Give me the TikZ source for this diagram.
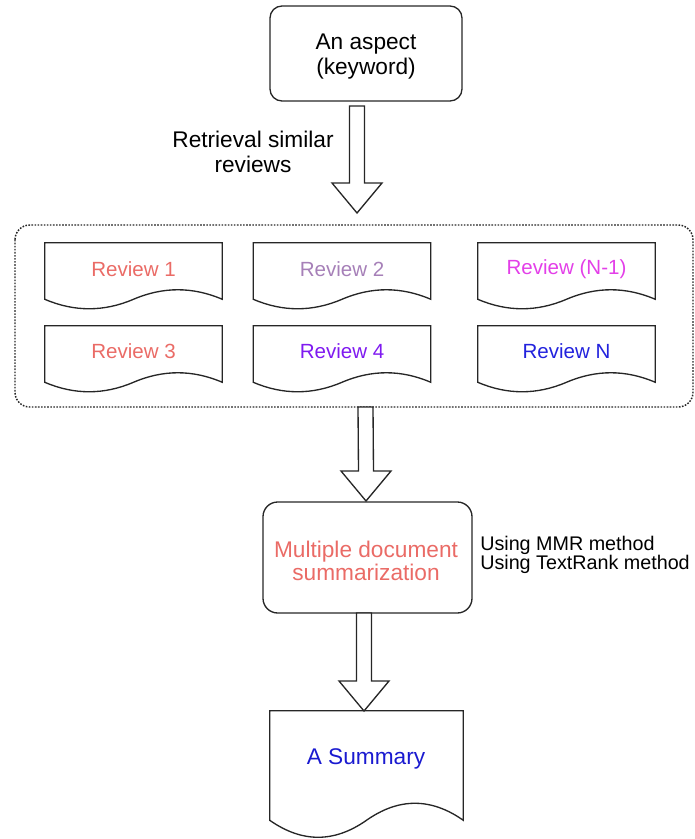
\documentclass[tikz,border=0pt]{standalone}
\usepackage{fontspec}
\setmainfont{Liberation Sans}
\usetikzlibrary{calc}
\definecolor{salmon}{HTML}{EA6B66}
\definecolor{lav}{HTML}{A680B8}
\definecolor{magpink}{HTML}{E33FE8}
\definecolor{purp}{HTML}{7F1AF0}
\definecolor{blueN}{HTML}{2222DD}
\definecolor{sumblue}{HTML}{1A1AD0}
\tikzset{
  outline/.style={draw=black!85, line width=1pt},
  bigtxt/.style={font=\fontsize{17}{18.75}\selectfont, align=center, inner sep=0pt},
  revtxt/.style={font=\fontsize{15.4}{18}\selectfont, inner sep=0pt},
  sidetxt/.style={font=\fontsize{14.8}{14.25}\selectfont, align=left, inner sep=0pt, anchor=west},
  docbox/.style={inner sep=0pt, draw=none},
  blockarrow/.style={draw=black!85, line width=1pt, fill=white, line join=miter},
}
% document outline: node name, wave amplitude
\newcommand\docoutline[2]{%
  \draw[outline] (#1.south west) -- (#1.north west) -- (#1.north east) -- (#1.south east)
    .. controls ($(#1.south east)!1/3!(#1.south)+(0,-#2/0.75)$) and ($(#1.south east)!2/3!(#1.south)+(0,-#2/0.75)$) .. (#1.south)
    .. controls ($(#1.south)!1/3!(#1.south west)+(0,#2/0.75)$) and ($(#1.south)!2/3!(#1.south west)+(0,#2/0.75)$) .. (#1.south west) -- cycle;}
% block arrow between two coordinates (top, tip)
\newcommand\bigarrow[2]{%
  \draw[blockarrow] ($(#1)+(-7.5,0)$) -- ($(#2)+(-7.5,-30)$) -- ($(#2)+(-25,-30)$) -- (#2)
    -- ($(#2)+(25,-30)$) -- ($(#2)+(7.5,-30)$) -- ($(#1)+(7.5,0)$) -- cycle;}
\begin{document}
\begin{tikzpicture}[x=0.75pt, y=-0.75pt]
\useasboundingbox (0,0) rectangle (695,839);

% top box
\draw[outline, rounded corners=9pt] (270,6) rectangle (462,101);
\node[bigtxt] (aspect) at (366,57) {An aspect\\(keyword)};
\coordinate (topbot) at (357,106);
\coordinate (a1tip) at (357,213);
\bigarrow{topbot}{a1tip}
\node[bigtxt] (retr) at (253,152) {Retrieval similar\\reviews};

% container
\draw[line width=1.1pt, black!85, dash pattern=on 1.2pt off 1.1pt, rounded corners=11pt] (15,225) rectangle (693,407);
\coordinate (contbot) at (365.5,407);

% review documents
\tikzset{revdoc/.style={docbox, minimum width=132.75pt, minimum height=42pt}}
\node[revdoc] (r1) at (133.5,271) {};
\node[revdoc] (r2) at (342,271) {};
\node[revdoc] (r5) at (566.5,271) {};
\node[revdoc] (r3) at (133.5,354) {};
\node[revdoc] (r4) at (342,354) {};
\node[revdoc] (r6) at (566.5,354) {};
\foreach \n in {r1,r2,r3,r4,r5,r6} {\docoutline{\n}{9.5}}
\node[revtxt, text=salmon] at (133.5,269) {Review 1};
\node[revtxt, text=lav] at (342,269) {Review 2};
\node[revtxt, text=magpink] at (566.5,269) {Review (N-1)};
\node[revtxt, text=salmon] at (133.5,351) {Review 3};
\node[revtxt, text=purp] at (342,351) {Review 4};
\node[revtxt, text=blueN] at (566.5,351) {Review N};

% arrow 2
\coordinate (a2tip) at (366,501);
\bigarrow{contbot}{a2tip}

% summarization box
\draw[outline, rounded corners=11pt] (263,502) rectangle (472,613);
\node[bigtxt, text=salmon, font=\fontsize{17}{17.25}\selectfont] (mds) at (366,561) {Multiple document\\summarization};
\node[sidetxt] (side) at (480,555) {Using MMR method\\Using TextRank method};

% arrow 3
\coordinate (mdsbot) at (364,613);
\coordinate (a3tip) at (364,711);
\bigarrow{mdsbot}{a3tip}

% summary doc
\node[docbox, minimum width=144.75pt, minimum height=81.75pt] (summ) at (366.5,765.5) {};
\docoutline{summ}{17}
\node[bigtxt, text=sumblue] (sumtxt) at (366,759) {A Summary};
\end{tikzpicture}
\end{document}
